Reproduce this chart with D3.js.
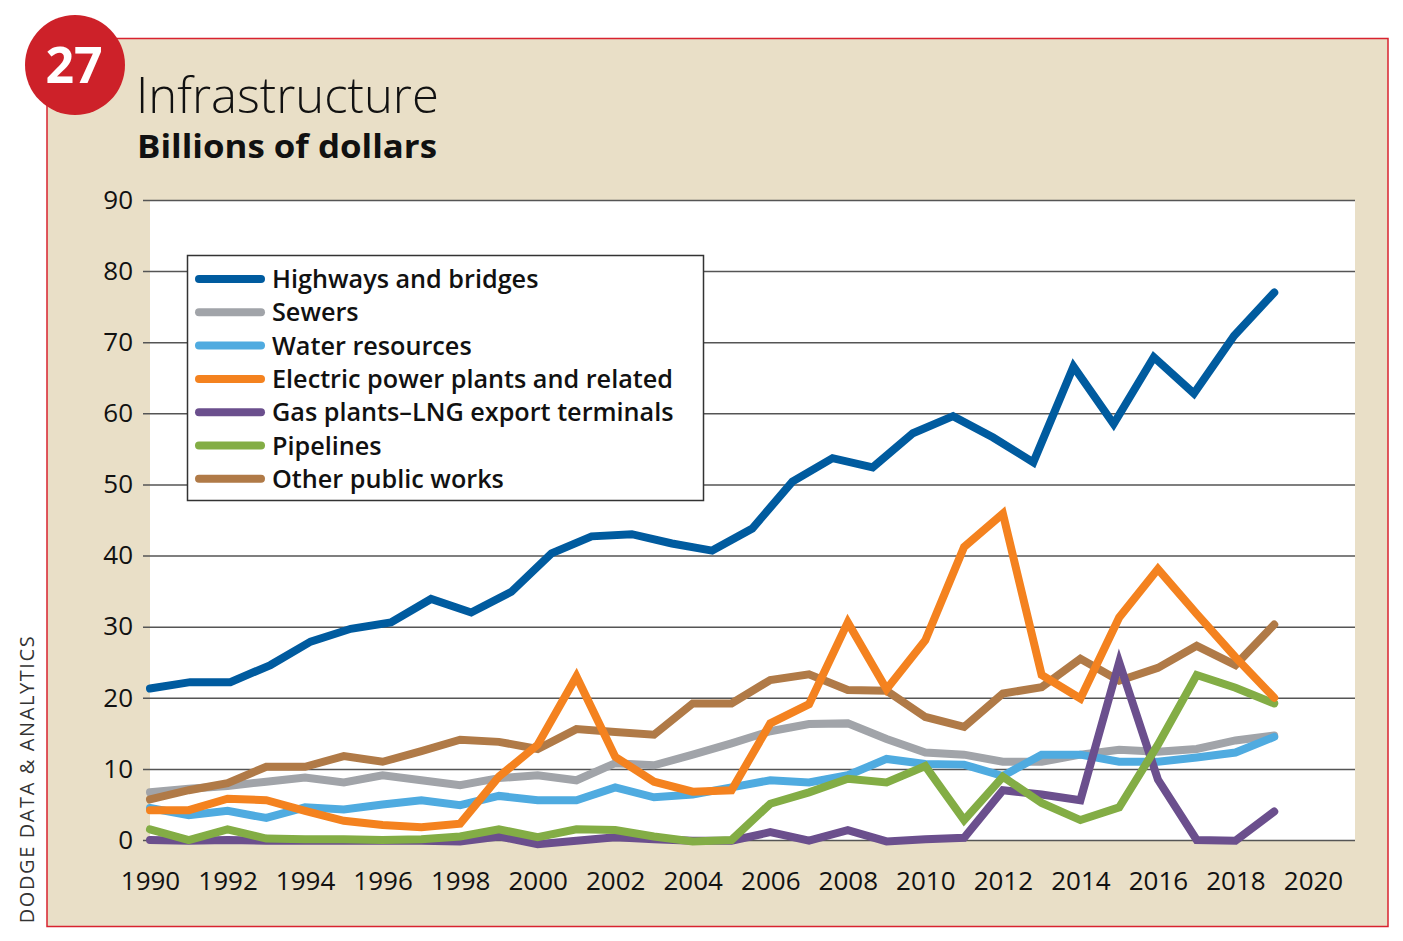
<!DOCTYPE html>
<html>
<head>
<meta charset="utf-8">
<script src="https://cdn.jsdelivr.net/npm/d3@7"></script>
<style>
  body { margin: 0; background: #fff; }
  svg text { font-family: "Open Sans", sans-serif; }
</style>
</head>
<body>
<div id="chart"></div>
<script>
var width = 1403;
var height = 941;

var years = d3.range(1990, 2020);
var xTicks = [1990, 1992, 1994, 1996, 1998, 2000, 2002, 2004, 2006, 2008, 2010, 2012, 2014, 2016, 2018, 2020];
var yTicks = [0, 10, 20, 30, 40, 50, 60, 70, 80, 90];

var seriesNames = ["Highways and bridges", "Sewers", "Water resources", "Electric power plants and related",
  "Gas plants\u2013LNG export terminals", "Pipelines", "Other public works"];
var colors = ["#005b9f", "#a1a4a9", "#4fabe0", "#f4821f", "#6b4f8d", "#83ad45", "#b07a47"];

// highways line in the original has 29 vertices spread evenly over the 1990-2019 span
var highways = [21.3, 22.2, 22.2, 24.6, 27.9, 29.7, 30.6, 33.9, 32.0, 34.9, 40.3, 42.7, 43.0, 41.7, 40.7,
  43.8, 50.4, 53.7, 52.4, 57.2, 59.6, 56.6, 53.1, 66.6, 58.5, 67.9, 62.8, 70.9, 77.0];
var sewers = [6.7, 7.2, 7.6, 8.2, 8.8, 8.1, 9.1, 8.4, 7.7, 8.7, 9.1, 8.4, 10.8, 10.5, 12.0,
  13.6, 15.3, 16.3, 16.4, 14.2, 12.3, 12.0, 11.0, 11.0, 12.0, 12.7, 12.4, 12.8, 14.0, 14.7];
var water = [4.5, 3.5, 4.1, 3.1, 4.6, 4.3, 5.0, 5.6, 4.9, 6.2, 5.6, 5.6, 7.4, 6.0, 6.4,
  7.4, 8.4, 8.1, 9.1, 11.4, 10.7, 10.6, 9.0, 12.0, 12.0, 11.0, 11.0, 11.6, 12.3, 14.5];
var electric = [4.2, 4.2, 5.8, 5.6, 4.1, 2.7, 2.1, 1.8, 2.3, 8.9, 13.4, 23.0, 11.7, 8.2, 6.8,
  7.0, 16.4, 19.1, 30.6, 21.2, 28.1, 41.2, 45.9, 23.2, 19.9, 31.3, 38.1, 31.8, 25.7, 20.0];
var gasLng = [0.0, -0.1, 0.0, -0.1, -0.1, -0.1, -0.1, -0.1, -0.2, 0.5, -0.6, -0.1, 0.4, 0.1, -0.1,
  -0.1, 1.1, -0.1, 1.4, -0.2, 0.1, 0.3, 7.0, 6.4, 5.6, 25.0, 8.5, 0.0, -0.1, 4.0];
var pipelines = [1.5, 0.0, 1.5, 0.2, 0.1, 0.1, 0.0, 0.1, 0.5, 1.5, 0.4, 1.5, 1.4, 0.5, -0.2,
  0.0, 5.1, 6.7, 8.6, 8.1, 10.4, 2.8, 8.9, 5.2, 2.8, 4.6, 13.4, 23.2, 21.4, 19.2];
var otherWorks = [5.7, 7.0, 8.0, 10.3, 10.3, 11.8, 11.0, 12.5, 14.1, 13.8, 12.8, 15.6, 15.2, 14.8, 19.2,
  19.2, 22.5, 23.3, 21.1, 21.0, 17.3, 15.9, 20.6, 21.5, 25.5, 22.4, 24.2, 27.3, 24.6, 30.3];

var allSeries = [highways, sewers, water, electric, gasLng, pipelines, otherWorks];
// drawing order, bottom to top
var drawOrder = [1, 2, 6, 4, 5, 3, 0];

var svg = d3.select("#chart")
  .append("svg")
    .attr("width", width)
    .attr("height", height);

// beige panel with red border
svg.append("rect")
  .attr("x", 47).attr("y", 38.5)
  .attr("width", 1341).attr("height", 888)
  .attr("fill", "#e9dfc7")
  .attr("stroke", "#d8232f")
  .attr("stroke-width", 1.5);

// badge
svg.append("circle")
  .attr("cx", 75).attr("cy", 65).attr("r", 50)
  .attr("fill", "#cd2129");
svg.append("text")
  .attr("x", 74).attr("y", 83)
  .attr("text-anchor", "middle")
  .attr("fill", "#fff")
  .style("font-size", "50px")
  .style("font-weight", 700)
  .text("27");

svg.append("text")
  .attr("x", 136).attr("y", 113)
  .attr("fill", "#111")
  .style("font-size", "49px")
  .style("font-weight", 300)
  .text("Infrastructure");
svg.append("text")
  .attr("x", 137).attr("y", 158)
  .attr("fill", "#111")
  .attr("textLength", 300)
  .attr("lengthAdjust", "spacingAndGlyphs")
  .style("font-size", "32px")
  .style("font-weight", 700)
  .text("Billions of dollars");

svg.append("text")
  .attr("transform", "translate(34,779) rotate(-90)")
  .attr("text-anchor", "middle")
  .attr("fill", "#333")
  .style("font-size", "20px")
  .style("letter-spacing", "1.6px")
  .text("DODGE DATA & ANALYTICS");

var x = d3.scaleLinear().domain([1990, 2020]).range([150, 1313]);
var y = d3.scaleLinear().domain([0, 90]).range([840, 200]);
var xHighways = d3.scaleLinear().domain([0, highways.length - 1]).range([x(1990), x(2019)]);

// white plot area
svg.append("rect")
  .attr("x", 150).attr("y", y(90))
  .attr("width", 1355 - 150).attr("height", y(0) - y(90))
  .attr("fill", "#fff");

// y grid + labels
var yAxis = d3.axisLeft(y).tickValues(yTicks).tickSize(-(1355 - 143)).tickPadding(10);
var gy = svg.append("g")
  .attr("transform", "translate(143,0)")
  .call(yAxis);
gy.select(".domain").remove();
gy.selectAll(".tick line").attr("stroke", "#555").attr("stroke-width", 1.5);
gy.selectAll(".tick text")
  .attr("fill", "#111")
  .style("font-size", "26px")
  .style("font-family", "'Open Sans', sans-serif");

// x labels
var xAxis = d3.axisBottom(x).tickValues(xTicks).tickFormat(d3.format("d")).tickSize(0).tickPadding(32);
var gx = svg.append("g")
  .attr("transform", "translate(0," + y(0) + ")")
  .call(xAxis);
gx.select(".domain").remove();
gx.selectAll(".tick text")
  .attr("fill", "#111")
  .style("font-size", "26px")
  .style("font-family", "'Open Sans', sans-serif");

var line = d3.line()
  .x((d, i) => x(years[i]))
  .y(d => y(d));
var highwayLine = d3.line()
  .x((d, i) => xHighways(i))
  .y(d => y(d));

drawOrder.forEach(function(k) {
  svg.append("path")
    .datum(allSeries[k])
    .attr("d", k === 0 ? highwayLine : line)
    .attr("fill", "none")
    .attr("stroke", colors[k])
    .attr("stroke-width", 8)
    .attr("stroke-linecap", "round")
    .attr("stroke-linejoin", "miter");
});

// legend
var legend = svg.append("g");
legend.append("rect")
  .attr("x", 187.5).attr("y", 255.5)
  .attr("width", 516).attr("height", 245)
  .attr("fill", "#fff")
  .attr("stroke", "#333")
  .attr("stroke-width", 1.5);

var rows = legend.selectAll(".row")
  .data(seriesNames)
  .enter().append("g")
    .attr("class", "row")
    .attr("transform", (d, i) => `translate(0, ${279 + i * 33.3})`);

rows.append("line")
  .attr("x1", 199).attr("x2", 261)
  .attr("stroke", (d, i) => colors[i])
  .attr("stroke-width", 8)
  .attr("stroke-linecap", "round");

var labels = rows.append("text")
  .attr("x", 272)
  .attr("dy", "0.35em")
  .attr("fill", "#111")
  .style("font-size", "26px")
  .style("font-weight", 600)
  .text(d => d);

// squeeze legend labels so the longest one fits the box like the original
var longest = labels.filter((d, i) => i === 3).node().getComputedTextLength();
var ratio = 401 / longest;
labels.each(function() {
  var w = this.getComputedTextLength();
  d3.select(this).attr("textLength", w * ratio).attr("lengthAdjust", "spacingAndGlyphs");
});
</script>
</body>
</html>
